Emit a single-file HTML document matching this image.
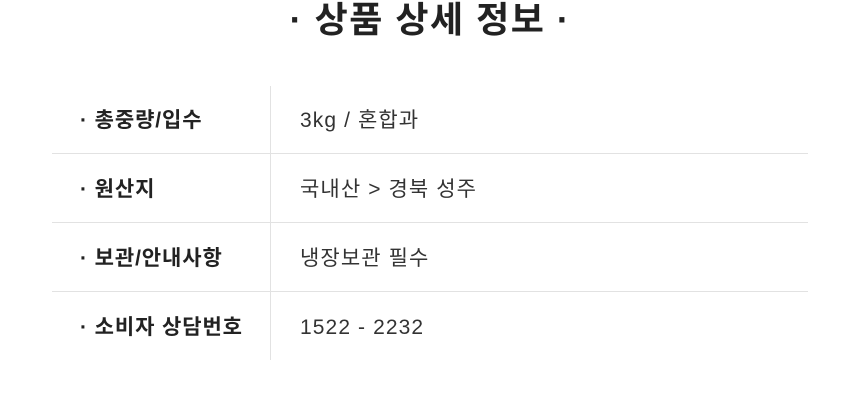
<!DOCTYPE html>
<html><head><meta charset="utf-8"><style>
body{margin:0;width:860px;height:410px;background:#fff;overflow:hidden;position:relative;font-family:"Liberation Sans","Noto Sans CJK KR",sans-serif;color:#222}
.title{position:absolute;left:0;width:860px;top:-3px;text-align:center;font-size:36px;font-weight:bold;color:#222;line-height:46px;letter-spacing:1.5px}
.tbl{position:absolute;left:52px;top:85px;width:756px}
.row{position:relative;height:69px;box-sizing:border-box;border-bottom:1px solid #e2e2e2}
.row:last-child{border-bottom:none}
.lab{position:absolute;left:28px;top:0;line-height:71px;font-size:21px;font-weight:bold;color:#222;letter-spacing:0.9px}
.val{position:absolute;left:248px;top:0;line-height:71px;font-size:21px;color:#333;letter-spacing:1.1px}
.vline{position:absolute;left:270px;top:86px;width:1px;height:274px;background:#e2e2e2}
</style></head><body>
<div class="title">· 상품 상세 정보 ·</div>
<div class="tbl">
<div class="row"><span class="lab">· 총중량/입수</span><span class="val">3kg / 혼합과</span></div>
<div class="row"><span class="lab">· 원산지</span><span class="val">국내산 &gt; 경북 성주</span></div>
<div class="row"><span class="lab">· 보관/안내사항</span><span class="val">냉장보관 필수</span></div>
<div class="row"><span class="lab">· 소비자 상담번호</span><span class="val">1522 - 2232</span></div>
</div>
<div class="vline"></div>
</body></html>
